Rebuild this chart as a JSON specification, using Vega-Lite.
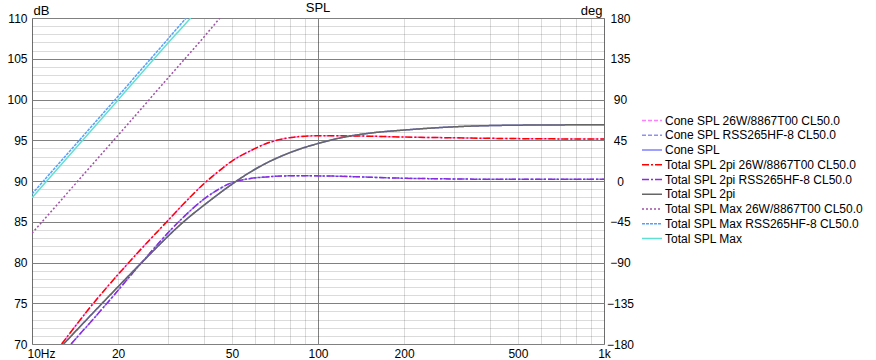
{
  "$schema": "https://vega.github.io/schema/vega-lite/v6.json",
  "width": 572,
  "height": 326,
  "autosize": {"type": "none"},
  "padding": {"left": 32, "top": 18, "right": 272, "bottom": 16},
  "background": "white",
  "title": {"text": "SPL", "fontSize": 13, "fontWeight": "normal", "anchor": "middle", "baseline": "alphabetic", "offset": 4, "dy": 25, "color": "black"},
  "config": {
    "font": "Liberation Sans",
    "view": {"stroke": "#808080", "strokeWidth": 1},
    "axis": {"labelFontSize": 12, "labelColor": "black", "domain": false, "ticks": false, "titleFontWeight": "normal", "titleFontSize": 13, "titleColor": "black"},
    "legend": {"orient": "none", "legendX": 614, "legendY": 96.5, "labelFontSize": 12, "labelColor": "black", "symbolType": "M-2.5,0H2.5", "symbolSize": 64, "labelOffset": 7, "rowPadding": 2.75, "padding": 0, "labelLimit": 300}
  },
  "datasets": {
    "spl": [
      {"s": "Cone SPL 26W/8867T00 CL50.0", "f": 12.7, "db": 70}, {"s": "Cone SPL 26W/8867T00 CL50.0", "f": 16.4, "db": 75}, {"s": "Cone SPL 26W/8867T00 CL50.0", "f": 21.8, "db": 80}, {"s": "Cone SPL 26W/8867T00 CL50.0", "f": 29.6, "db": 85}, {"s": "Cone SPL 26W/8867T00 CL50.0", "f": 35, "db": 87.7}, {"s": "Cone SPL 26W/8867T00 CL50.0", "f": 40, "db": 89.7}, {"s": "Cone SPL 26W/8867T00 CL50.0", "f": 45, "db": 91.2}, {"s": "Cone SPL 26W/8867T00 CL50.0", "f": 50, "db": 92.45}, {"s": "Cone SPL 26W/8867T00 CL50.0", "f": 58, "db": 93.7}, {"s": "Cone SPL 26W/8867T00 CL50.0", "f": 66, "db": 94.6}, {"s": "Cone SPL 26W/8867T00 CL50.0", "f": 75, "db": 95.15}, {"s": "Cone SPL 26W/8867T00 CL50.0", "f": 86, "db": 95.45}, {"s": "Cone SPL 26W/8867T00 CL50.0", "f": 100, "db": 95.55}, {"s": "Cone SPL 26W/8867T00 CL50.0", "f": 150, "db": 95.5}, {"s": "Cone SPL 26W/8867T00 CL50.0", "f": 194, "db": 95.4}, {"s": "Cone SPL 26W/8867T00 CL50.0", "f": 300, "db": 95.3}, {"s": "Cone SPL 26W/8867T00 CL50.0", "f": 500, "db": 95.2}, {"s": "Cone SPL 26W/8867T00 CL50.0", "f": 1000, "db": 95.15},
      {"s": "Cone SPL RSS265HF-8 CL50.0", "f": 13.7, "db": 70}, {"s": "Cone SPL RSS265HF-8 CL50.0", "f": 18.3, "db": 75}, {"s": "Cone SPL RSS265HF-8 CL50.0", "f": 24.2, "db": 80}, {"s": "Cone SPL RSS265HF-8 CL50.0", "f": 32.6, "db": 85}, {"s": "Cone SPL RSS265HF-8 CL50.0", "f": 40, "db": 87.8}, {"s": "Cone SPL RSS265HF-8 CL50.0", "f": 45, "db": 89.0}, {"s": "Cone SPL RSS265HF-8 CL50.0", "f": 50, "db": 89.8}, {"s": "Cone SPL RSS265HF-8 CL50.0", "f": 58, "db": 90.3}, {"s": "Cone SPL RSS265HF-8 CL50.0", "f": 66, "db": 90.5}, {"s": "Cone SPL RSS265HF-8 CL50.0", "f": 86, "db": 90.65}, {"s": "Cone SPL RSS265HF-8 CL50.0", "f": 113, "db": 90.6}, {"s": "Cone SPL RSS265HF-8 CL50.0", "f": 194, "db": 90.35}, {"s": "Cone SPL RSS265HF-8 CL50.0", "f": 300, "db": 90.25}, {"s": "Cone SPL RSS265HF-8 CL50.0", "f": 500, "db": 90.2}, {"s": "Cone SPL RSS265HF-8 CL50.0", "f": 1000, "db": 90.2},
      {"s": "Cone SPL", "f": 12.9, "db": 70}, {"s": "Cone SPL", "f": 17.6, "db": 75}, {"s": "Cone SPL", "f": 24.2, "db": 80}, {"s": "Cone SPL", "f": 33.9, "db": 85}, {"s": "Cone SPL", "f": 41.9, "db": 87.6}, {"s": "Cone SPL", "f": 50, "db": 89.6}, {"s": "Cone SPL", "f": 58, "db": 91.1}, {"s": "Cone SPL", "f": 66, "db": 92.2}, {"s": "Cone SPL", "f": 75, "db": 93.1}, {"s": "Cone SPL", "f": 86, "db": 93.9}, {"s": "Cone SPL", "f": 100, "db": 94.6}, {"s": "Cone SPL", "f": 122, "db": 95.35}, {"s": "Cone SPL", "f": 150, "db": 95.85}, {"s": "Cone SPL", "f": 200, "db": 96.25}, {"s": "Cone SPL", "f": 300, "db": 96.65}, {"s": "Cone SPL", "f": 500, "db": 96.85}, {"s": "Cone SPL", "f": 1000, "db": 96.9},
      {"s": "Total SPL 2pi 26W/8867T00 CL50.0", "f": 12.7, "db": 70}, {"s": "Total SPL 2pi 26W/8867T00 CL50.0", "f": 16.4, "db": 75}, {"s": "Total SPL 2pi 26W/8867T00 CL50.0", "f": 21.8, "db": 80}, {"s": "Total SPL 2pi 26W/8867T00 CL50.0", "f": 29.6, "db": 85}, {"s": "Total SPL 2pi 26W/8867T00 CL50.0", "f": 35, "db": 87.7}, {"s": "Total SPL 2pi 26W/8867T00 CL50.0", "f": 40, "db": 89.7}, {"s": "Total SPL 2pi 26W/8867T00 CL50.0", "f": 45, "db": 91.2}, {"s": "Total SPL 2pi 26W/8867T00 CL50.0", "f": 50, "db": 92.45}, {"s": "Total SPL 2pi 26W/8867T00 CL50.0", "f": 58, "db": 93.7}, {"s": "Total SPL 2pi 26W/8867T00 CL50.0", "f": 66, "db": 94.6}, {"s": "Total SPL 2pi 26W/8867T00 CL50.0", "f": 75, "db": 95.15}, {"s": "Total SPL 2pi 26W/8867T00 CL50.0", "f": 86, "db": 95.45}, {"s": "Total SPL 2pi 26W/8867T00 CL50.0", "f": 100, "db": 95.55}, {"s": "Total SPL 2pi 26W/8867T00 CL50.0", "f": 150, "db": 95.5}, {"s": "Total SPL 2pi 26W/8867T00 CL50.0", "f": 194, "db": 95.4}, {"s": "Total SPL 2pi 26W/8867T00 CL50.0", "f": 300, "db": 95.3}, {"s": "Total SPL 2pi 26W/8867T00 CL50.0", "f": 500, "db": 95.2}, {"s": "Total SPL 2pi 26W/8867T00 CL50.0", "f": 1000, "db": 95.15},
      {"s": "Total SPL 2pi RSS265HF-8 CL50.0", "f": 13.7, "db": 70}, {"s": "Total SPL 2pi RSS265HF-8 CL50.0", "f": 18.3, "db": 75}, {"s": "Total SPL 2pi RSS265HF-8 CL50.0", "f": 24.2, "db": 80}, {"s": "Total SPL 2pi RSS265HF-8 CL50.0", "f": 32.6, "db": 85}, {"s": "Total SPL 2pi RSS265HF-8 CL50.0", "f": 40, "db": 87.8}, {"s": "Total SPL 2pi RSS265HF-8 CL50.0", "f": 45, "db": 89.0}, {"s": "Total SPL 2pi RSS265HF-8 CL50.0", "f": 50, "db": 89.8}, {"s": "Total SPL 2pi RSS265HF-8 CL50.0", "f": 58, "db": 90.3}, {"s": "Total SPL 2pi RSS265HF-8 CL50.0", "f": 66, "db": 90.5}, {"s": "Total SPL 2pi RSS265HF-8 CL50.0", "f": 86, "db": 90.65}, {"s": "Total SPL 2pi RSS265HF-8 CL50.0", "f": 113, "db": 90.6}, {"s": "Total SPL 2pi RSS265HF-8 CL50.0", "f": 194, "db": 90.35}, {"s": "Total SPL 2pi RSS265HF-8 CL50.0", "f": 300, "db": 90.25}, {"s": "Total SPL 2pi RSS265HF-8 CL50.0", "f": 500, "db": 90.2}, {"s": "Total SPL 2pi RSS265HF-8 CL50.0", "f": 1000, "db": 90.2},
      {"s": "Total SPL 2pi", "f": 12.9, "db": 70}, {"s": "Total SPL 2pi", "f": 17.6, "db": 75}, {"s": "Total SPL 2pi", "f": 24.2, "db": 80}, {"s": "Total SPL 2pi", "f": 33.9, "db": 85}, {"s": "Total SPL 2pi", "f": 41.9, "db": 87.6}, {"s": "Total SPL 2pi", "f": 50, "db": 89.6}, {"s": "Total SPL 2pi", "f": 58, "db": 91.1}, {"s": "Total SPL 2pi", "f": 66, "db": 92.2}, {"s": "Total SPL 2pi", "f": 75, "db": 93.1}, {"s": "Total SPL 2pi", "f": 86, "db": 93.9}, {"s": "Total SPL 2pi", "f": 100, "db": 94.6}, {"s": "Total SPL 2pi", "f": 122, "db": 95.35}, {"s": "Total SPL 2pi", "f": 150, "db": 95.85}, {"s": "Total SPL 2pi", "f": 200, "db": 96.25}, {"s": "Total SPL 2pi", "f": 300, "db": 96.65}, {"s": "Total SPL 2pi", "f": 500, "db": 96.85}, {"s": "Total SPL 2pi", "f": 1000, "db": 96.9},
      {"s": "Total SPL Max 26W/8867T00 CL50.0", "f": 10, "db": 83.6}, {"s": "Total SPL Max 26W/8867T00 CL50.0", "f": 20, "db": 95.6}, {"s": "Total SPL Max 26W/8867T00 CL50.0", "f": 30, "db": 102.7}, {"s": "Total SPL Max 26W/8867T00 CL50.0", "f": 40, "db": 107.7}, {"s": "Total SPL Max 26W/8867T00 CL50.0", "f": 45.4, "db": 110},
      {"s": "Total SPL Max RSS265HF-8 CL50.0", "f": 10, "db": 88.4}, {"s": "Total SPL Max RSS265HF-8 CL50.0", "f": 20, "db": 100.4}, {"s": "Total SPL Max RSS265HF-8 CL50.0", "f": 30, "db": 107.5}, {"s": "Total SPL Max RSS265HF-8 CL50.0", "f": 34.6, "db": 110},
      {"s": "Total SPL Max", "f": 10, "db": 87.95}, {"s": "Total SPL Max", "f": 20, "db": 99.95}, {"s": "Total SPL Max", "f": 30, "db": 107.0}, {"s": "Total SPL Max", "f": 35.9, "db": 110}
    ]
  },
  "layer": [
    {
      "data": {"name": "spl"},
      "encoding": {
        "x": {
          "field": "f", "type": "quantitative",
          "scale": {"type": "log", "domain": [10, 1000]},
          "axis": {
            "title": null,
            "values": [10, 20, 30, 40, 50, 60, 70, 80, 90, 100, 200, 300, 400, 500, 600, 700, 800, 900, 1000],
            "labelExpr": "datum.value == 10 ? '10Hz' : datum.value == 20 ? '20' : datum.value == 50 ? '50' : datum.value == 100 ? '100' : datum.value == 200 ? '200' : datum.value == 500 ? '500' : datum.value == 1000 ? '1k' : ''",
            "labelPadding": 4,
            "labelFlush": false,
            "labelOffset": {"condition": {"test": "datum.value == 10", "value": 9}, "value": 0},
            "gridColor": {"condition": {"test": "datum.value == 100", "value": "#808080"}, "value": "#000000"},
            "gridOpacity": {"condition": {"test": "datum.value == 100", "value": 1}, "value": 0.14}
          }
        },
        "y": {
          "field": "db", "type": "quantitative",
          "scale": {"domain": [70, 110], "nice": false, "zero": false},
          "axis": {
            "title": "dB", "titleAngle": 0, "titleX": 1, "titleY": -4, "titleAlign": "left", "titleBaseline": "alphabetic",
            "values": [70,71,72,73,74,75,76,77,78,79,80,81,82,83,84,85,86,87,88,89,90,91,92,93,94,95,96,97,98,99,100,101,102,103,104,105,106,107,108,109,110],
            "labelExpr": "datum.value % 5 == 0 ? datum.label : ''",
            "labelPadding": 5,
            "gridColor": {"condition": {"test": "datum.value % 5 == 0", "value": "#808080"}, "value": "#000000"},
            "gridOpacity": {"condition": {"test": "datum.value % 5 == 0", "value": 1}, "value": 0.14}
          }
        },
        "color": {
          "field": "s", "type": "nominal",
          "scale": {
            "domain": ["Cone SPL 26W/8867T00 CL50.0", "Cone SPL RSS265HF-8 CL50.0", "Cone SPL", "Total SPL 2pi 26W/8867T00 CL50.0", "Total SPL 2pi RSS265HF-8 CL50.0", "Total SPL 2pi", "Total SPL Max 26W/8867T00 CL50.0", "Total SPL Max RSS265HF-8 CL50.0", "Total SPL Max"],
            "range": ["#ff80ff", "#9090f0", "#8080ff", "#ff0000", "#8a2be2", "#666666", "#a050a8", "#55a0ff", "#60e0d0"]
          },
          "legend": {"title": null}
        },
        "strokeDash": {
          "field": "s", "type": "nominal",
          "scale": {
            "domain": ["Cone SPL 26W/8867T00 CL50.0", "Cone SPL RSS265HF-8 CL50.0", "Cone SPL", "Total SPL 2pi 26W/8867T00 CL50.0", "Total SPL 2pi RSS265HF-8 CL50.0", "Total SPL 2pi", "Total SPL Max 26W/8867T00 CL50.0", "Total SPL Max RSS265HF-8 CL50.0", "Total SPL Max"],
            "range": [[4, 2], [4, 2], [1, 0], [7, 2, 2, 2], [7, 2, 2, 2], [1, 0], [2, 2], [3, 1], [1, 0]]
          },
          "legend": {"title": null}
        },
        "strokeWidth": {
          "field": "s", "type": "nominal",
          "scale": {
            "domain": ["Cone SPL 26W/8867T00 CL50.0", "Cone SPL RSS265HF-8 CL50.0", "Cone SPL", "Total SPL 2pi 26W/8867T00 CL50.0", "Total SPL 2pi RSS265HF-8 CL50.0", "Total SPL 2pi", "Total SPL Max 26W/8867T00 CL50.0", "Total SPL Max RSS265HF-8 CL50.0", "Total SPL Max"],
            "range": [1.5, 1.5, 2, 2, 2, 2, 1, 1, 1]
          },
          "legend": {"title": null}
        }
      },
      "layer": [
        {"transform": [{"filter": "indexof(datum.s, 'Cone') == 0"}], "mark": {"type": "line", "clip": true, "interpolate": "monotone"}},
        {"transform": [{"filter": "indexof(datum.s, 'Total SPL Max') == 0"}], "mark": {"type": "line", "clip": true}},
        {"transform": [{"filter": "indexof(datum.s, 'Total SPL 2pi') == 0"}], "mark": {"type": "line", "clip": true, "interpolate": "monotone"}}
      ]
    },
    {
      "data": {"values": [{"deg": -180}, {"deg": 180}]},
      "mark": {"type": "rule", "opacity": 0},
      "encoding": {
        "y": {
          "field": "deg", "type": "quantitative",
          "scale": {"domain": [-180, 180], "nice": false, "zero": false},
          "axis": {
            "orient": "right", "grid": false,
            "values": [-180, -135, -90, -45, 0, 45, 90, 135, 180],
            "labelAlign": "center", "labelPadding": 16,
            "title": "deg", "titleAngle": 0, "titleX": -2, "titleY": -4, "titleAlign": "right", "titleBaseline": "alphabetic"
          }
        }
      }
    }
  ],
  "resolve": {"scale": {"y": "independent"}}
}
